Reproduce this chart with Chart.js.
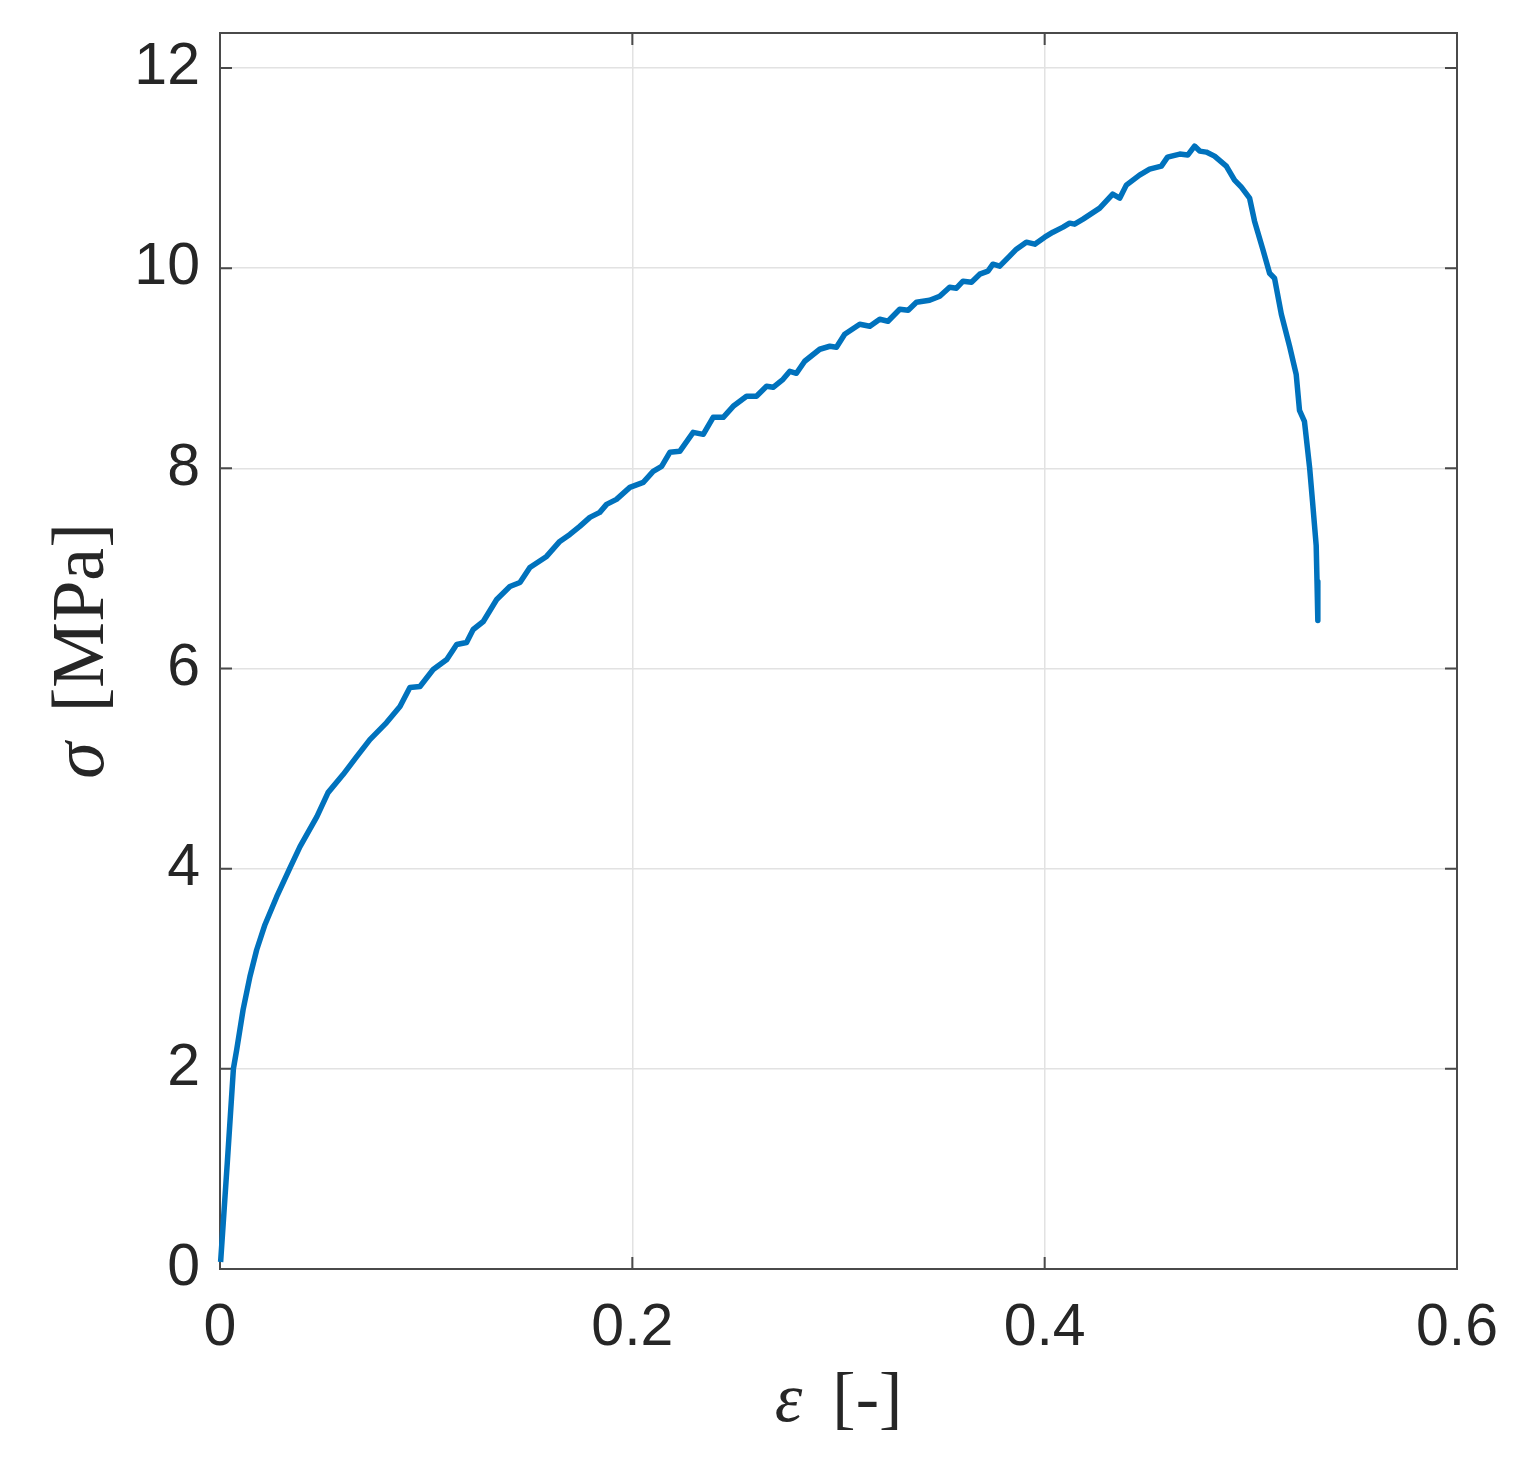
<!DOCTYPE html>
<html>
<head>
<meta charset="utf-8">
<script src="https://cdn.jsdelivr.net/npm/chart.js@4"></script>
<style>
  html,body{margin:0;padding:0;background:#fff;}
  #wrap{width:1535px;height:1469px;position:relative;}
</style>
</head>
<body>
<div id="wrap"><canvas id="c"></canvas></div>
<script>
// strain [-] and stress [MPa]
const strain = [
  0.0003,0.0035,0.0065,0.0081,0.0112,0.0145,0.0178,0.0218,0.0275,0.034,
  0.0388,0.047,0.0524,0.0597,0.0663,0.0727,0.0808,0.0873,0.0921,0.097,
  0.1034,0.11,0.1148,0.1196,0.1228,0.1277,0.1342,0.1406,0.1455,0.1503,
  0.1584,0.1648,0.1697,0.1745,0.1794,0.1842,0.1875,0.1923,0.1988,0.2053,
  0.2101,0.2142,0.2182,0.2230,0.2295,0.2344,0.2392,0.2441,0.2489,0.2554,
  0.2602,0.2651,0.2683,0.2731,0.2764,0.2796,0.2836,0.2909,0.2958,0.2990,
  0.3030,0.3103,0.3152,0.3200,0.3240,0.3297,0.3338,0.3378,0.3442,0.3491,
  0.3539,0.3572,0.3604,0.3645,0.3685,0.3725,0.3749,0.3782,0.3830,0.3863,
  0.3911,0.3952,0.4000,0.4040,0.4089,0.4121,0.4145,0.4186,0.4267,0.4330,
  0.4364,0.4396,0.4460,0.4509,0.4566,0.4596,0.4655,0.4694,0.4727,0.4752,
  0.4784,0.4824,0.4881,0.4921,0.4954,0.4994,0.5018,0.5058,0.5091,0.5115,
  0.5148,0.5188,0.5220,0.5236,0.5260,0.5285,0.5300,0.5317,0.5321,0.5325
];
const stress = [
  0.07,1.05,2.00,2.19,2.59,2.92,3.19,3.44,3.72,4.01,
  4.22,4.52,4.76,4.94,5.12,5.29,5.46,5.62,5.81,5.82,
  5.99,6.09,6.24,6.26,6.39,6.47,6.69,6.82,6.86,7.01,
  7.12,7.27,7.34,7.42,7.51,7.56,7.64,7.69,7.81,7.86,
  7.97,8.02,8.16,8.17,8.36,8.34,8.51,8.51,8.62,8.72,
  8.72,8.82,8.81,8.89,8.97,8.95,9.07,9.19,9.22,9.21,
  9.34,9.44,9.42,9.49,9.47,9.59,9.58,9.66,9.68,9.72,
  9.81,9.80,9.87,9.86,9.94,9.97,10.04,10.02,10.12,10.19,
  10.26,10.24,10.31,10.36,10.41,10.45,10.44,10.49,10.60,10.74,
  10.70,10.83,10.93,10.99,11.02,11.11,11.14,11.13,11.22,11.17,
  11.16,11.12,11.02,10.88,10.81,10.70,10.47,10.19,9.95,9.90,
  9.54,9.22,8.94,8.58,8.47,8.01,7.65,7.23,6.87,6.48
];
const xTicks = [0,0.2,0.4,0.6];
const yTicks = [0,2,4,6,8,10,12];
const X_MAX = 0.6, Y_MAX = 12.35;

const INK = '#262626';
const TICK_FONT = {family:'"Liberation Sans", Arial, sans-serif', size:59};
const SERIF = '"Liberation Serif", "DejaVu Serif", serif';

// box with inward ticks on all four sides, drawn under the curve
const framePlugin = {
  id:'frame',
  beforeDatasetsDraw(chart){
    const {ctx, chartArea:a, scales:{x,y}} = chart;
    const t = 12;
    ctx.save();
    ctx.strokeStyle = '#4a4a4a';
    ctx.lineWidth = 2;
    ctx.strokeRect(a.left, a.top, a.right-a.left, a.bottom-a.top);
    ctx.beginPath();
    xTicks.forEach(v=>{
      const px = x.getPixelForValue(v);
      ctx.moveTo(px,a.bottom); ctx.lineTo(px,a.bottom-t);
      ctx.moveTo(px,a.top); ctx.lineTo(px,a.top+t);
    });
    yTicks.forEach(v=>{
      const py = y.getPixelForValue(v);
      ctx.moveTo(a.left,py); ctx.lineTo(a.left+t,py);
      ctx.moveTo(a.right,py); ctx.lineTo(a.right-t,py);
    });
    ctx.stroke();
    ctx.restore();
  },
  afterDraw(chart){
    const {ctx, chartArea:a} = chart;
    ctx.save();
    ctx.fillStyle = INK;
    ctx.textBaseline = 'middle';
    // x title: ε [-]
    const parts = [
      {t:'ε', f:`italic 70px ${SERIF}`, gap:30},
      {t:'[-]', f:`70px ${SERIF}`, gap:0}
    ];
    let w = 0;
    parts.forEach(p=>{ctx.font=p.f; p.w=ctx.measureText(p.t).width; w+=p.w+p.gap;});
    let cx = (a.left+a.right)/2 - w/2;
    const ty = 1403;
    parts.forEach(p=>{ctx.font=p.f; ctx.textAlign='left'; ctx.fillText(p.t,cx,ty); cx+=p.w+p.gap;});
    // y title: σ [MPa], rotated
    const yparts = [
      {t:'σ', f:`italic 74px ${SERIF}`, gap:30},
      {t:'[MPa]', f:`74px ${SERIF}`, gap:0}
    ];
    w = 0;
    yparts.forEach(p=>{ctx.font=p.f; p.w=ctx.measureText(p.t).width; w+=p.w+p.gap;});
    ctx.translate(84,(a.top+a.bottom)/2);
    ctx.rotate(-Math.PI/2);
    cx = -w/2;
    yparts.forEach(p=>{ctx.font=p.f; ctx.textAlign='left'; ctx.fillText(p.t,cx,0); cx+=p.w+p.gap;});
    ctx.restore();
  }
};

new Chart(document.getElementById('c'),{
  type:'scatter',
  data:{
    datasets:[{
      data:strain.map((e,i)=>({x:e,y:stress[i]})),
      showLine:true,
      borderColor:'#0072BD',
      borderWidth:5.5,
      borderJoinStyle:'round',
      borderCapStyle:'butt',
      pointRadius:0,
      tension:0,
      clip:false
    }]
  },
  options:{
    responsive:true,
    maintainAspectRatio:false,
    animation:false,
    layout:{padding:{top:33,right:78,left:0,bottom:0}},
    plugins:{legend:{display:false},tooltip:{enabled:false}},
    scales:{
      x:{
        type:'linear',min:0,max:X_MAX,
        afterBuildTicks:s=>{s.ticks = xTicks.map(v=>({value:v}));},
        afterFit:s=>{s.height = 200; s.paddingLeft = 0; s.paddingRight = 0;},
        border:{display:false},
        grid:{color:'#e2e2e2',lineWidth:1.5,drawTicks:false},
        ticks:{color:INK,font:TICK_FONT,padding:24,maxRotation:0,
          callback:v=>String(v)}
      },
      y:{
        type:'linear',min:0,max:Y_MAX,
        afterBuildTicks:s=>{s.ticks = yTicks.map(v=>({value:v}));},
        afterFit:s=>{s.width = 220; s.paddingTop = 0; s.paddingBottom = 0;},
        border:{display:false},
        grid:{color:'#e2e2e2',lineWidth:1.5,drawTicks:false},
        ticks:{color:INK,font:TICK_FONT,padding:20,
          callback:v=>String(v)}
      }
    }
  },
  plugins:[framePlugin]
});
</script>
</body>
</html>
